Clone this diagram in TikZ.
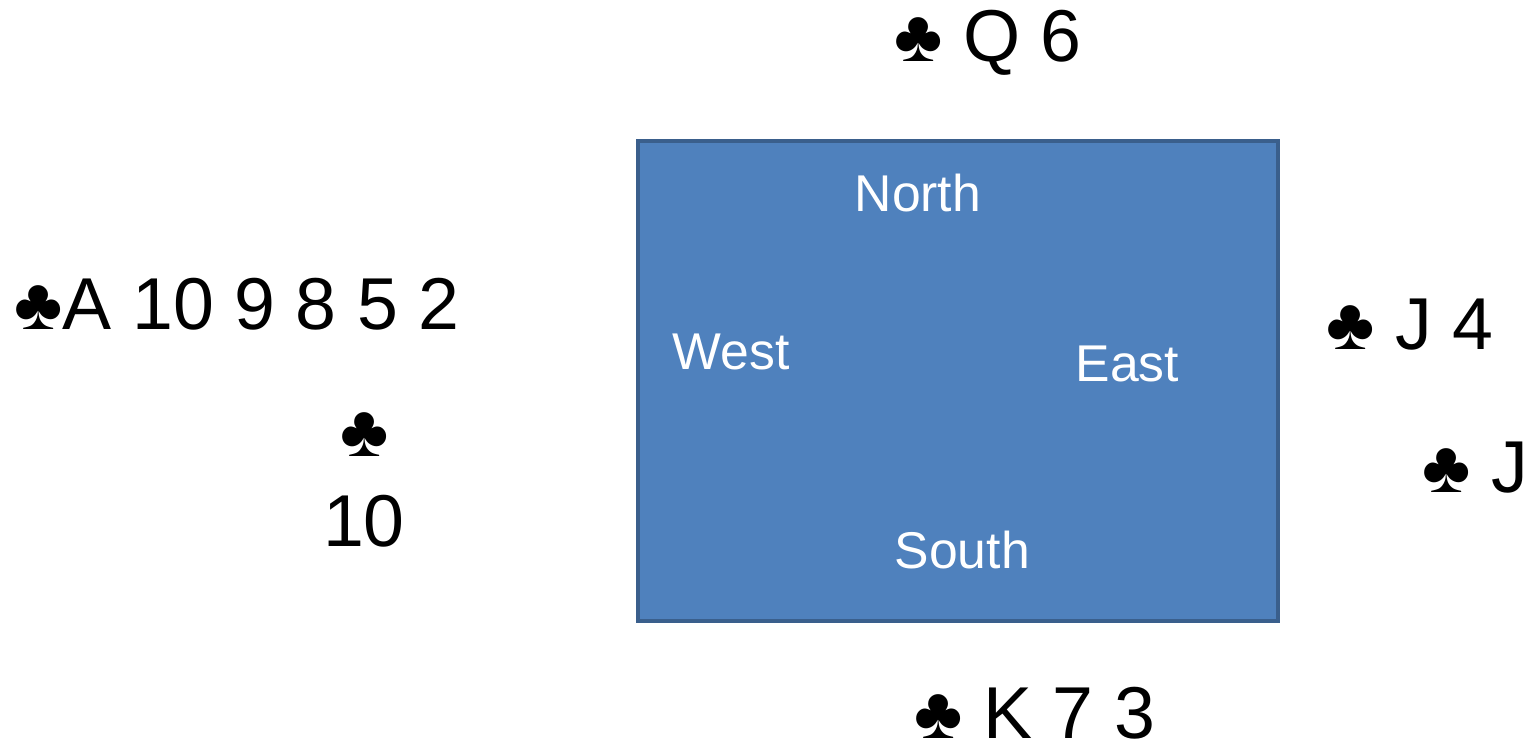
\documentclass[tikz,border=0pt]{standalone}
\usepackage{fontspec}
\setmainfont{Liberation Sans}
\definecolor{tableblue}{HTML}{4F81BD}
\definecolor{tableedge}{HTML}{3A5F8C}
\def\handsize{\fontsize{20.9}{25}\selectfont}
\def\seatsize{\fontsize{14.7}{17}\selectfont}

\begin{document}
\begin{tikzpicture}[x=0.01cm,y=-0.01cm,
    hand/.style={anchor=base west,inner sep=0pt,font=\handsize},
    seat/.style={anchor=base west,inner sep=0pt,font=\seatsize,text=white}]
  \useasboundingbox (0,0) rectangle (1536,743);
  % The table
  \draw[fill=tableblue,draw=tableedge,line width=1.4pt] (638,141) rectangle (1278,621);
  % Seats round the table
  \foreach \name/\x/\y/\seat in {
      north/854/212/North,
      west/672/370/West,
      east/1075/382/East,
      south/894/568/South
    } {
      \node[seat] (\name) at (\x,\y) {\seat};
    };
  % Cards held and played
  \foreach \name/\x/\y/\cards in {
      northhand/894/62/♣ Q 6,
      westhand/14/330/♣A 10 9 8 5 2,
      easthand/1326/350/♣ J 4,
      eastplay/1422/493/♣ J,
      southhand/914/738/♣ K 7 3
    } {
      \node[hand] (\name) at (\x,\y) {\cards};
    };
  % West's card, two lines
  \node[hand,anchor=base] (westplay) at (365,457) {♣};
  \node[hand,anchor=base] (westplaynum) at (364,547) {10};
\end{tikzpicture}
\end{document}
